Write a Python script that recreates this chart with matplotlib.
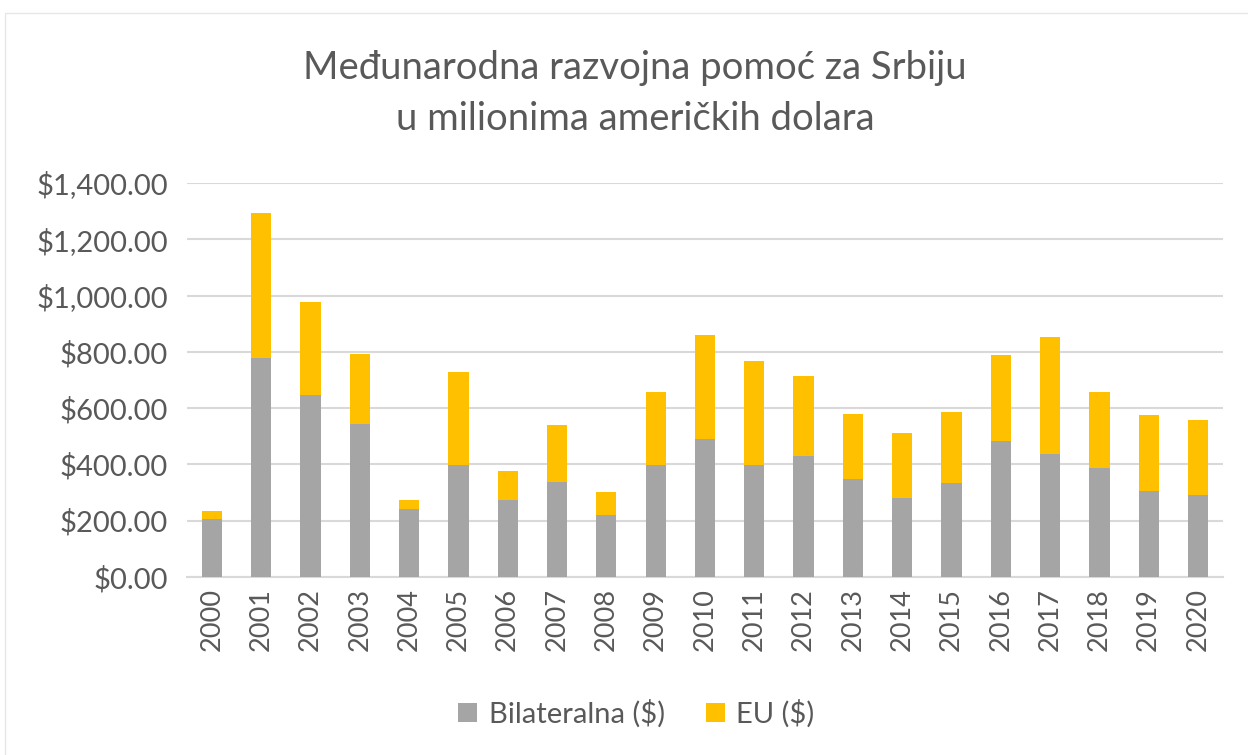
import matplotlib.pyplot as plt
from matplotlib.patches import Rectangle
from matplotlib.ticker import FuncFormatter

years = [str(y) for y in range(2000, 2021)]
bilateral = [206, 778, 648, 544, 240, 399, 274, 336, 221, 397, 491, 397, 429, 347, 281, 333, 484, 437, 386, 304, 290]
totals = [236, 1293, 977, 792, 272, 728, 377, 540, 302, 658, 860, 766, 714, 580, 513, 587, 789, 853, 656, 574, 559]
eu = [t - b for t, b in zip(totals, bilateral)]

plt.rcParams['font.family'] = ['Lato', 'DejaVu Sans']
text_color = '#595959'

fig = plt.figure(figsize=(12.48, 7.55), dpi=100)
ax = fig.add_axes([0.150, 0.2358, 0.8297, 0.5218])

x = range(len(years))
ax.bar(x, bilateral, width=0.41, color='#A5A5A5', label='Bilateralna ($)', zorder=3)
ax.bar(x, eu, width=0.41, bottom=bilateral, color='#FFC000', label='EU ($)', zorder=3)

ax.set_xlim(-0.5, len(years) - 0.5)
ax.set_ylim(0, 1400)
ax.set_yticks(range(0, 1401, 200))
ax.yaxis.set_major_formatter(FuncFormatter(lambda v, p: '${:,.2f}'.format(v)))
ax.set_xticks(list(x))
ax.set_xticklabels(years, rotation=90)
ax.tick_params(axis='both', length=0, colors=text_color)
ax.tick_params(axis='y', pad=14, labelsize=21)
ax.tick_params(axis='x', pad=8, labelsize=19.5)

ax.grid(axis='y', color='#D9D9D9', linewidth=1.5, zorder=0)
for s in ['top', 'right', 'left']:
    ax.spines[s].set_visible(False)
ax.spines['bottom'].set_color('#D9D9D9')
ax.spines['bottom'].set_linewidth(1.5)

fig.text(0.509, 0.91, 'Međunarodna razvojna pomoć za Srbiju', ha='center', va='center',
         fontsize=27.5, color=text_color)
fig.text(0.509, 0.843, 'u milionima američkih dolara', ha='center', va='center',
         fontsize=27.5, color=text_color)

ax.legend(loc='center', bbox_to_anchor=(0.51, 0.055), bbox_transform=fig.transFigure,
          frameon=False, ncol=2, fontsize=21, labelcolor=text_color,
          handlelength=0.65, handleheight=0.65, columnspacing=1.4, handletextpad=0.4)

fig.patches.append(Rectangle((0.004, -0.01), 1.0, 0.993, transform=fig.transFigure,
                             fill=False, edgecolor='#E6E6E6', linewidth=1))

fig.savefig('out.png', dpi=100)
